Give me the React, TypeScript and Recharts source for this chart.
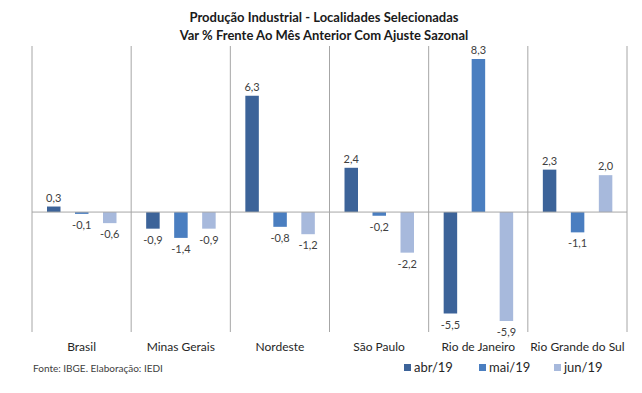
import React from 'react'
import {
  BarChart,
  Bar,
  XAxis,
  YAxis,
  CartesianGrid,
  ReferenceLine,
  Legend,
  LabelList,
} from 'recharts'

const categories = [
  'Brasil',
  'Minas Gerais',
  'Nordeste',
  'São Paulo',
  'Rio de Janeiro',
  'Rio Grande do Sul',
]
const abr19 = [0.3, -0.9, 6.3, 2.4, -5.5, 2.3]
const mai19 = [-0.1, -1.4, -0.8, -0.2, 8.3, -1.1]
const jun19 = [-0.6, -0.9, -1.2, -2.2, -5.9, 2.0]

const series = [
  { key: 'abr', name: 'abr/19', color: '#3C6399' },
  { key: 'mai', name: 'mai/19', color: '#4A7EC0' },
  { key: 'jun', name: 'jun/19', color: '#A7B9DC' },
]

const data = categories.map((c, i) => ({
  name: c,
  abr: abr19[i],
  mai: mai19[i],
  jun: jun19[i],
}))

const FONT = 'Lato, "Open Sans", sans-serif'

const fmt = (v: number) => v.toFixed(1).replace('.', ',')

function ValueLabel(props: any) {
  const { x, y, width, height, value } = props
  const top = Math.min(y, y + height)
  const bottom = Math.max(y, y + height)
  const cx = x + width / 2
  const ty = value >= 0 ? top - 5 : bottom + 15
  return (
    <text x={cx} y={ty} textAnchor="middle" fontSize={11} fill="#404040" fontFamily={FONT}>
      {fmt(value)}
    </text>
  )
}

// legend keeps series order (default sorter would put jun before mai)
function LegendContent() {
  return (
    <div style={{ display: 'flex', fontFamily: FONT, fontSize: 13, color: '#262626' }}>
      {series.map((s) => (
        <div key={s.key} style={{ width: 75, display: 'flex', alignItems: 'center' }}>
          <span style={{ width: 7, height: 7, background: s.color, marginRight: 3, display: 'inline-block' }} />
          <span>{s.name}</span>
        </div>
      ))}
    </div>
  )
}

export default function App() {
  return (
    <div style={{ position: 'absolute', left: 0, top: 0, width: 642, height: 393, background: '#fff' }}>
      <div
        style={{
          position: 'absolute',
          top: 8,
          left: 0,
          width: 648,
          textAlign: 'center',
          fontFamily: FONT,
          fontWeight: 700,
          fontSize: 13,
          lineHeight: '18px',
          color: '#1a1a1a',
        }}
      >
        Produção Industrial - Localidades Selecionadas
        <br />
        Var % Frente Ao Mês Anterior Com Ajuste Sazonal
      </div>
      <BarChart
        width={642}
        height={393}
        data={data}
        margin={{ top: 46, right: 15, bottom: 41, left: 32 }}
        barSize={13.5}
        barGap={14.5}
      >
        <CartesianGrid
          horizontal={false}
          stroke="#A6A6A6"
          verticalCoordinatesGenerator={({ offset }: any) => {
            const n = categories.length
            const out: number[] = []
            for (let i = 0; i <= n; i++) out.push(offset.left + (i * offset.width) / n)
            return out
          }}
        />
        <XAxis
          dataKey="name"
          axisLine={false}
          tickLine={false}
          height={20}
          tickMargin={4}
          interval={0}
          tick={{ fontSize: 12, fill: '#262626', fontFamily: FONT }}
        />
        <YAxis hide domain={[-6.5, 9]} />
        <ReferenceLine y={0} stroke="#A6A6A6" />
        <Legend
          verticalAlign="middle"
          align="center"
          content={<LegendContent />}
          wrapperStyle={{ position: 'absolute', left: 404, top: 359, width: 240 }}
        />
        {series.map((s) => (
          <Bar key={s.key} dataKey={s.key} name={s.name} fill={s.color} isAnimationActive={false}>
            <LabelList dataKey={s.key} content={<ValueLabel />} />
          </Bar>
        ))}
      </BarChart>
      <div
        style={{
          position: 'absolute',
          left: 33,
          top: 362,
          fontFamily: FONT,
          fontSize: 10,
          color: '#404040',
        }}
      >
        Fonte: IBGE. Elaboração: IEDI
      </div>
    </div>
  )
}
